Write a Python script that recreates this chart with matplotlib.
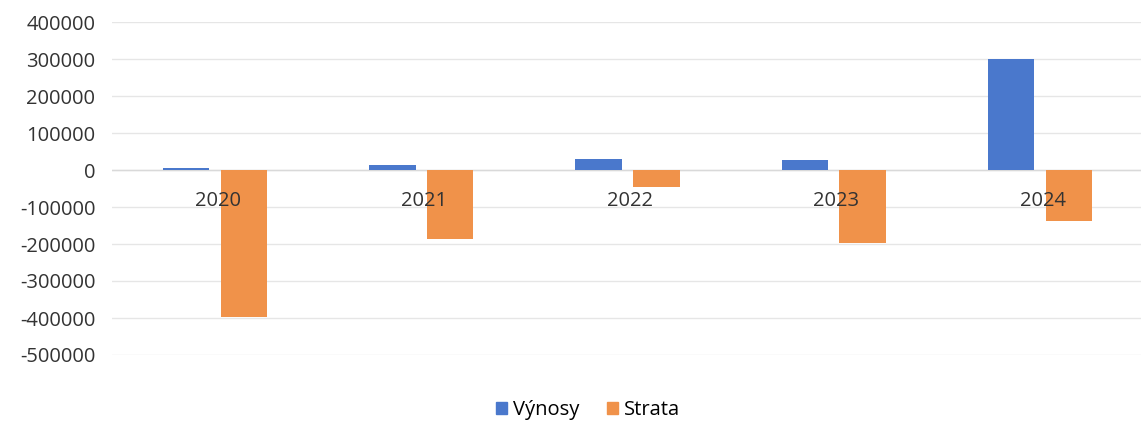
import matplotlib
matplotlib.use("Agg")
import matplotlib.pyplot as plt
import numpy as np
from matplotlib.patches import Patch

years = ["2020", "2021", "2022", "2023", "2024"]
vynosy = [5000, 13000, 30000, 27000, 300000]
strata = [-397000, -187000, -46000, -197000, -138000]
yticks = [400000, 300000, 200000, 100000, 0, -100000, -200000, -300000, -400000, -500000]

blue = "#4A78CC"
orange = "#F0924A"

plt.rcParams['font.family'] = ['Open Sans', 'DejaVu Sans']

fig = plt.figure(figsize=(11.41, 4.26), dpi=100)
ax = fig.add_axes([112/1141, 1-355/426, 1031/1141, (355-22)/426])

x = np.arange(len(years))
w = 0.225
off = 0.14
ax.bar(x - off, vynosy, w, color=blue, zorder=3)
ax.bar(x + off, strata, w, color=orange, zorder=3)

ax.set_xlim(-0.5, len(years) - 0.5)
ax.set_ylim(-500000, 400000)
ax.set_yticks(yticks)
ax.set_yticklabels([str(v) for v in yticks], fontsize=14.5, color="#333333")
ax.tick_params(axis='y', length=0, pad=12)
ax.set_xticks([])
ax.grid(axis='y', color="#e6e6e6", linewidth=1, zorder=0)
ax.axhline(0, color="#d9d9d9", linewidth=1, zorder=2)
for s in ax.spines.values():
    s.set_visible(False)

for i, yl in enumerate(years):
    ax.annotate(yl, xy=(i, 0), xytext=(2, -22), textcoords='offset points',
                ha='center', va='center', fontsize=14.5, color="#333333", zorder=5)

handles = [Patch(color=blue, label="Výnosy"), Patch(color=orange, label="Strata")]
fig.legend(handles=handles, loc='center', bbox_to_anchor=(588/1141, 1-410/426),
           ncol=2, frameon=False, fontsize=14.5, handlelength=0.55, handleheight=0.55,
           handletextpad=0.3, columnspacing=1.4)

fig.savefig("out.png", dpi=100, facecolor="white")
